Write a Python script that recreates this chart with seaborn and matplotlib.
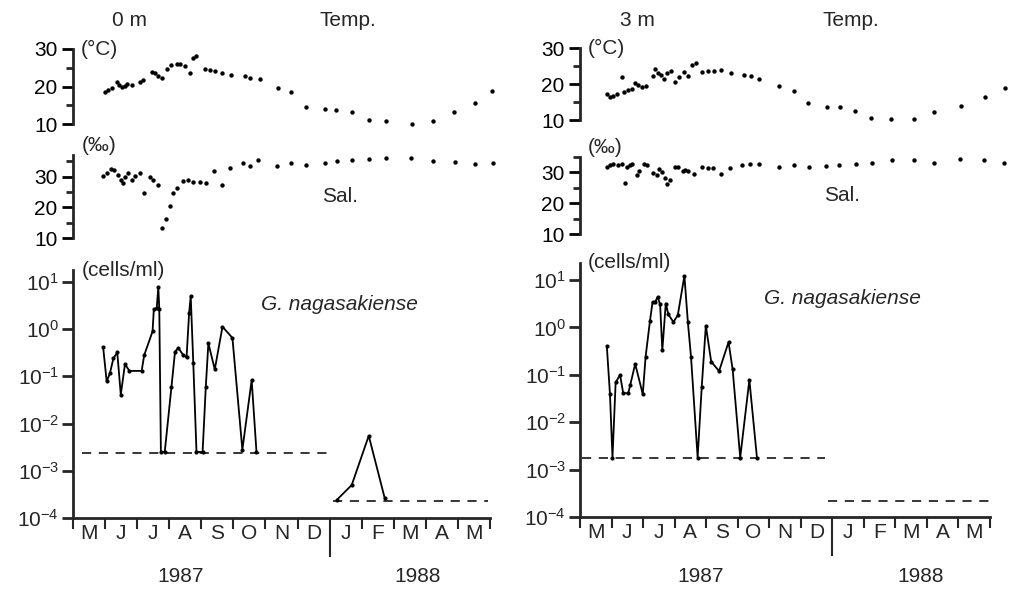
import numpy as np
import matplotlib
matplotlib.use("Agg")
import matplotlib.pyplot as plt
import matplotlib.ticker as mticker
import seaborn as sns

# ---- data (x = months since 1 May 1987) ----
months = ["M", "J", "J", "A", "S", "O", "N", "D", "J", "F", "M", "A", "M"]

# 0 m station
temp0_m = [1.00, 1.10, 1.23, 1.36, 1.44, 1.52, 1.62, 1.69, 1.83, 2.09, 2.19, 2.45, 2.55, 2.66,
           2.79, 2.92, 3.07, 3.23, 3.33, 3.49, 3.64, 3.75, 3.85, 4.11, 4.27, 4.42, 4.63, 4.94,
           5.36, 5.51, 5.83, 6.40, 6.81, 7.26, 7.85, 8.21, 8.71, 9.23, 9.75, 10.58, 11.23,
           11.87, 12.52, 13.07]
temp0_c = [18.6, 19.1, 19.7, 21.3, 20.4, 19.9, 20.1, 20.6, 20.4, 21.3, 21.7, 23.9, 23.5, 22.8,
           22.4, 24.8, 25.7, 26.0, 26.1, 25.4, 23.5, 27.5, 28.1, 24.8, 24.4, 24.2, 23.7, 23.2,
           22.8, 22.4, 21.9, 19.5, 18.6, 14.6, 13.9, 13.7, 13.3, 11.1, 10.8, 10.0, 10.8,
           13.3, 15.5, 18.9]
sal0_m = [0.94, 1.05, 1.17, 1.28, 1.41, 1.49, 1.55, 1.62, 1.72, 1.83, 1.93, 2.09, 2.21, 2.40,
          2.50, 2.66, 2.76, 2.90, 3.02, 3.13, 3.25, 3.44, 3.59, 3.75, 3.96, 4.16, 4.39, 4.63,
          4.89, 5.29, 5.51, 5.77, 6.37, 6.81, 7.26, 7.85, 8.23, 8.71, 9.23, 9.75, 10.55,
          11.23, 11.90, 12.52, 13.10]
sal0_v = [30.1, 31.2, 32.5, 32.0, 30.6, 29.0, 28.0, 29.9, 31.2, 29.0, 30.1, 31.2, 24.7, 29.9,
          29.0, 27.4, 13.1, 16.1, 20.4, 24.7, 26.3, 28.5, 29.0, 28.2, 28.2, 28.0, 31.7, 27.1,
          32.8, 34.4, 33.5, 35.3, 33.5, 34.4, 33.9, 34.4, 34.9, 35.3, 35.7, 36.0, 36.0,
          34.9, 34.6, 34.2, 34.4]
cell0_m = [0.94, 1.05, 1.15, 1.26, 1.38, 1.49, 1.62, 1.76, 2.14, 2.22, 2.48, 2.52, 2.61, 2.66,
           2.69, 2.74, 2.86, 3.07, 3.18, 3.28, 3.44, 3.54, 3.62, 3.67, 3.75, 3.85, 4.04, 4.14,
           4.22, 4.42, 4.66, 4.97, 5.28, 5.57, 5.72]
cell0_v = [0.41, 0.078, 0.115, 0.24, 0.32, 0.041, 0.18, 0.13, 0.13, 0.28, 0.89, 2.6, 2.8, 7.7,
           2.6, 0.0025, 0.0025, 0.06, 0.33, 0.40, 0.28, 0.25, 2.2, 5.0, 0.19, 0.0025, 0.0025,
           0.06, 0.50, 0.14, 1.12, 0.65, 0.0028, 0.083, 0.0025]
cell0_88_m = [8.22, 8.69, 9.22, 9.72]
cell0_88_v = [2.4e-4, 5.0e-4, 5.5e-3, 2.6e-4]
limit0_x = [(0.28, 7.94), (8.10, 12.93)]
limit0_v = [2.4e-3, 2.3e-4]

# 3 m station
temp3_m = [0.85, 0.95, 1.06, 1.16, 1.32, 1.41, 1.53, 1.64, 1.75, 1.83, 1.98, 2.08, 2.30, 2.38,
           2.47, 2.57, 2.65, 2.75, 2.89, 3.02, 3.14, 3.31, 3.42, 3.55, 3.67, 3.88, 4.05, 4.26,
           4.48, 4.79, 5.19, 5.43, 5.66, 6.30, 6.77, 7.23, 7.83, 8.23, 8.73, 9.24, 9.85,
           10.59, 11.23, 12.07, 12.84, 13.47]
temp3_c = [17.2, 16.3, 16.7, 17.2, 21.9, 17.9, 18.3, 18.5, 20.4, 19.7, 19.1, 19.4, 22.2, 24.1,
           23.0, 22.5, 21.3, 23.0, 23.7, 20.6, 21.9, 23.2, 22.2, 25.3, 25.9, 23.2, 23.7, 23.7,
           23.9, 23.0, 22.5, 22.2, 21.5, 19.4, 18.1, 14.6, 13.7, 13.5, 12.6, 10.5, 10.3,
           10.3, 12.1, 13.9, 16.3, 18.8]
sal3_m = [0.85, 0.95, 1.06, 1.22, 1.34, 1.43, 1.48, 1.59, 1.66, 1.80, 1.87, 2.04, 2.12, 2.33,
          2.43, 2.51, 2.59, 2.70, 2.75, 2.86, 3.00, 3.12, 3.25, 3.33, 3.44, 3.63, 3.88, 4.05,
          4.23, 4.48, 4.76, 5.13, 5.40, 5.66, 6.32, 6.80, 7.25, 7.81, 8.22, 8.75, 9.26,
          9.89, 10.58, 11.23, 12.04, 12.80, 13.44]
sal3_v = [31.9, 32.3, 32.6, 32.3, 32.6, 26.4, 31.9, 32.3, 32.6, 29.0, 30.6, 32.6, 32.3, 29.8,
          29.0, 31.2, 30.1, 28.3, 26.1, 27.4, 31.7, 31.7, 30.4, 30.9, 30.6, 29.6, 31.7, 31.5,
          31.5, 29.4, 31.5, 32.3, 32.6, 32.8, 31.7, 32.3, 31.9, 32.1, 32.3, 32.8, 33.2,
          34.1, 33.9, 33.2, 34.4, 34.1, 33.0]
cell3_m = [0.85, 0.95, 1.03, 1.13, 1.27, 1.37, 1.53, 1.59, 1.75, 1.99, 2.08, 2.22, 2.30, 2.38,
           2.46, 2.54, 2.61, 2.72, 2.80, 2.96, 3.10, 3.31, 3.42, 3.52, 3.73, 3.86, 3.99, 4.16,
           4.41, 4.71, 4.84, 5.08, 5.37, 5.61]
cell3_v = [0.41, 0.039, 0.0018, 0.069, 0.10, 0.041, 0.041, 0.06, 0.17, 0.039, 0.24, 1.4, 3.4,
           3.4, 4.4, 3.1, 0.33, 3.2, 1.9, 1.3, 1.8, 12.3, 1.3, 0.24, 0.0018, 0.056, 1.09, 0.19,
           0.12, 0.49, 0.13, 0.0018, 0.078, 0.0018]
limit3_x = [(0.06, 7.78), (7.87, 13.07)]
limit3_v = [1.8e-3, 2.2e-4]

W, H = 1009, 590
FS = 15

sns.set_theme(style="ticks")
plt.rcParams['font.family'] = ['Liberation Sans', 'DejaVu Sans']
plt.rcParams['mathtext.fontset'] = 'custom'
plt.rcParams['mathtext.rm'] = 'Liberation Sans'
plt.rcParams['mathtext.it'] = 'Liberation Sans:italic'
plt.rcParams['axes.linewidth'] = 2.0

fig = plt.figure(figsize=(W / 100, H / 100), dpi=100)
fig.patch.set_facecolor('white')


def px_axes(x0, y_bot, x1, y_top):
    return fig.add_axes([x0 / W, 1 - y_bot / H, (x1 - x0) / W, (y_bot - y_top) / H])


def style_upper(ax, lo, hi, major, minor):
    ax.set_facecolor('none')
    for s in ['top', 'right', 'bottom']:
        ax.spines[s].set_visible(False)
    ax.set_xlim(0, 13)
    ax.set_ylim(lo, hi)
    ax.set_xticks([])
    ax.set_yticks(major)
    ax.set_yticks(minor, minor=True)
    ax.tick_params(axis='y', which='major', direction='out', length=8, width=2,
                   labelsize=FS, pad=3, colors='black')
    ax.tick_params(axis='y', which='minor', direction='out', length=5, width=2)
    ax.set_xlabel('')
    ax.set_ylabel('')


def panel(x0, x1, temp_m, temp_c, t_px, sal_m, sal_v, s_px, sal_top,
          cells, limits_x, limits_v, c_px, log_top, depth, year_x):
    # temperature
    axt = px_axes(x0, t_px[0], x1, t_px[1])
    sns.scatterplot(x=temp_m, y=temp_c, ax=axt, color='black', s=10, linewidth=0,
                    clip_on=False)
    style_upper(axt, 10, 30, [10, 20, 30], [15, 25])
    axt.text(0.018, 1.0, '(°C)', transform=axt.transAxes, fontsize=FS, va='center')

    # salinity
    axs = px_axes(x0, s_px[0], x1, s_px[1])
    sns.scatterplot(x=sal_m, y=sal_v, ax=axs, color='black', s=10, linewidth=0,
                    clip_on=False)
    style_upper(axs, 10, sal_top, [10, 20, 30], [15, 25, 35])
    axs.text(0.02, 1.0, '(‰)', transform=axs.transAxes, fontsize=FS, va='bottom')
    axs.text(0.64, 0.5, 'Sal.', transform=axs.transAxes, fontsize=FS, ha='center',
             va='center')

    # cell density
    axc = px_axes(x0, c_px[0], x1, c_px[1])
    for cm, cv in cells:
        sns.lineplot(x=cm, y=cv, ax=axc, color='black', lw=1.3, sort=False,
                     estimator=None, marker='o', markersize=3, markeredgewidth=0)
    for (xa, xb), lv in zip(limits_x, limits_v):
        sns.lineplot(x=[xa, xb], y=[lv, lv], ax=axc, color='black', lw=1.1,
                     linestyle=(0, (6, 5)))
    axc.set_yscale('log')
    axc.set_ylim(1e-4, 10 ** log_top)
    axc.set_xlim(0, 13)
    axc.set_yticks([1e-4, 1e-3, 1e-2, 1e-1, 1e0, 1e1])
    axc.yaxis.set_minor_locator(mticker.NullLocator())
    axc.yaxis.set_major_formatter(mticker.LogFormatterSciNotation())
    for s in ['top', 'right']:
        axc.spines[s].set_visible(False)
    axc.tick_params(axis='y', direction='out', length=8, width=2, labelsize=FS, pad=2)
    axc.set_xticks(np.arange(0, 14))
    axc.set_xticklabels([])
    axc.set_xticks(np.arange(13) + 0.5, minor=True)
    axc.set_xticklabels(months, minor=True, fontsize=FS)
    axc.tick_params(axis='x', which='major', direction='out', length=8, width=1.5)
    axc.tick_params(axis='x', which='minor', length=0, pad=4)
    axc.xaxis.get_major_ticks()[8].tick1line.set_markersize(28)
    axc.set_xlabel('')
    axc.set_ylabel('')
    axc.text(0.02, 1.0, '(cells/ml)', transform=axc.transAxes, fontsize=FS, va='center')
    axc.text(0.64, 0.86, 'G. nagasakiense', transform=axc.transAxes, fontsize=FS,
             style='italic', ha='center', va='center')

    fig.text((x0 + 57) / W, 1 - 20 / H, depth, fontsize=FS, ha='center', va='center')
    fig.text((x0 + 0.66 * (x1 - x0)) / W, 1 - 20 / H, 'Temp.', fontsize=FS,
             ha='center', va='center')
    for yr, xm in zip(['1987', '1988'], year_x):
        fig.text((x0 + xm / 13 * (x1 - x0)) / W, 1 - 577 / H, yr, fontsize=FS,
                 ha='center', va='center')


panel(73, 490, temp0_m, temp0_c, (124, 49), sal0_m, sal0_v, (238, 155), 37,
      [(cell0_m, cell0_v), (cell0_88_m, cell0_88_v)], limit0_x, limit0_v,
      (518, 270), 1.25, '0 m', [3.36, 10.75])
panel(580, 990, temp3_m, temp3_c, (120, 48), sal3_m, sal3_v, (234, 157), 35,
      [(cell3_m, cell3_v)], limit3_x, limit3_v,
      (517, 263), 1.36, '3 m', [3.84, 10.8])

fig.savefig('out.png', dpi=100, facecolor='white')
